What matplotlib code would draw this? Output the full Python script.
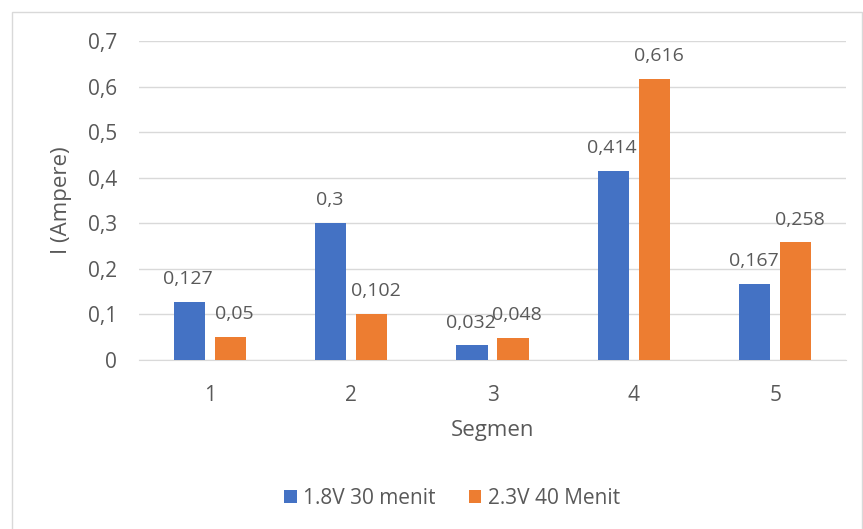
# Bar chart: arus per segmen

import matplotlib.pyplot as plt
import numpy as np

segmen = ['1', '2', '3', '4', '5']
arus_18v = [0.127, 0.3, 0.032, 0.414, 0.167]
arus_23v = [0.05, 0.102, 0.048, 0.616, 0.258]
seri = ['1.8V 30 menit', '2.3V 40 Menit']

plt.rcParams['font.family'] = ['Open Sans', 'DejaVu Sans']
teks = '#595959'

fig = plt.figure(figsize=(8.63, 5.29), dpi=100)
# plot area in pixels: x 139..846, y 41..360
ax = fig.add_axes([139 / 863, 1 - 360 / 529, 707 / 863, 319 / 529])

x = np.arange(len(segmen))
w = 0.22
b1 = ax.bar(x - 0.145, arus_18v, w, color='#4472C4', label=seri[0], zorder=3)
b2 = ax.bar(x + 0.145, arus_23v, w, color='#ED7D31', label=seri[1], zorder=3)

def fmt(v):
    return ('%g' % v).replace('.', ',')

# label biru agak ke kiri, oranye agak ke kanan supaya tidak bertumpuk
for bars, vals, dx in ((b1, arus_18v, -1), (b2, arus_23v, 3)):
    for r, v in zip(bars, vals):
        ax.annotate(fmt(v), (r.get_x() + r.get_width() / 2, v), xytext=(dx, 10),
                    textcoords='offset points', ha='center', va='bottom',
                    fontsize=14, color=teks)

ax.set_xlim(-0.5, 4.5)
ax.set_ylim(0, 0.7)
ax.set_yticks(np.arange(0, 0.71, 0.1))
ax.set_yticklabels(['0'] + [fmt(round(t, 1)) for t in np.arange(0.1, 0.71, 0.1)])
ax.set_xticks(x)
ax.set_xticklabels(segmen)
ax.tick_params(axis='both', length=0, labelsize=15, labelcolor=teks)
ax.tick_params(axis='y', pad=16)
ax.tick_params(axis='x', pad=18)
ax.grid(axis='y', color='#d9d9d9', linewidth=1, zorder=0)
for s in ['top', 'right', 'left']:
    ax.spines[s].set_visible(False)
ax.spines['bottom'].set_color('#d9d9d9')

ax.set_xlabel('Segmen', fontsize=16, color=teks, labelpad=10)
# judul sumbu y ditaruh manual
fig.text(62 / 863, 1 - 200 / 529, 'I (Ampere)', rotation=90, ha='center', va='center',
         fontsize=16, color=teks)

fig.legend(handles=[b1, b2], labels=seri, loc='center', bbox_to_anchor=(452 / 863, 1 - 498 / 529),
           ncol=2, frameon=False, fontsize=15, labelcolor=teks, handlelength=0.6,
           handleheight=0.6, handletextpad=0.3, columnspacing=1.6)

# chart border
fig.add_artist(plt.Rectangle((12 / 863, -0.01), (862 - 12) / 863, (529 - 12) / 529 + 0.01,
                             transform=fig.transFigure, fill=False, edgecolor='#d9d9d9', linewidth=1))

plt.savefig('out.png', dpi=100)
